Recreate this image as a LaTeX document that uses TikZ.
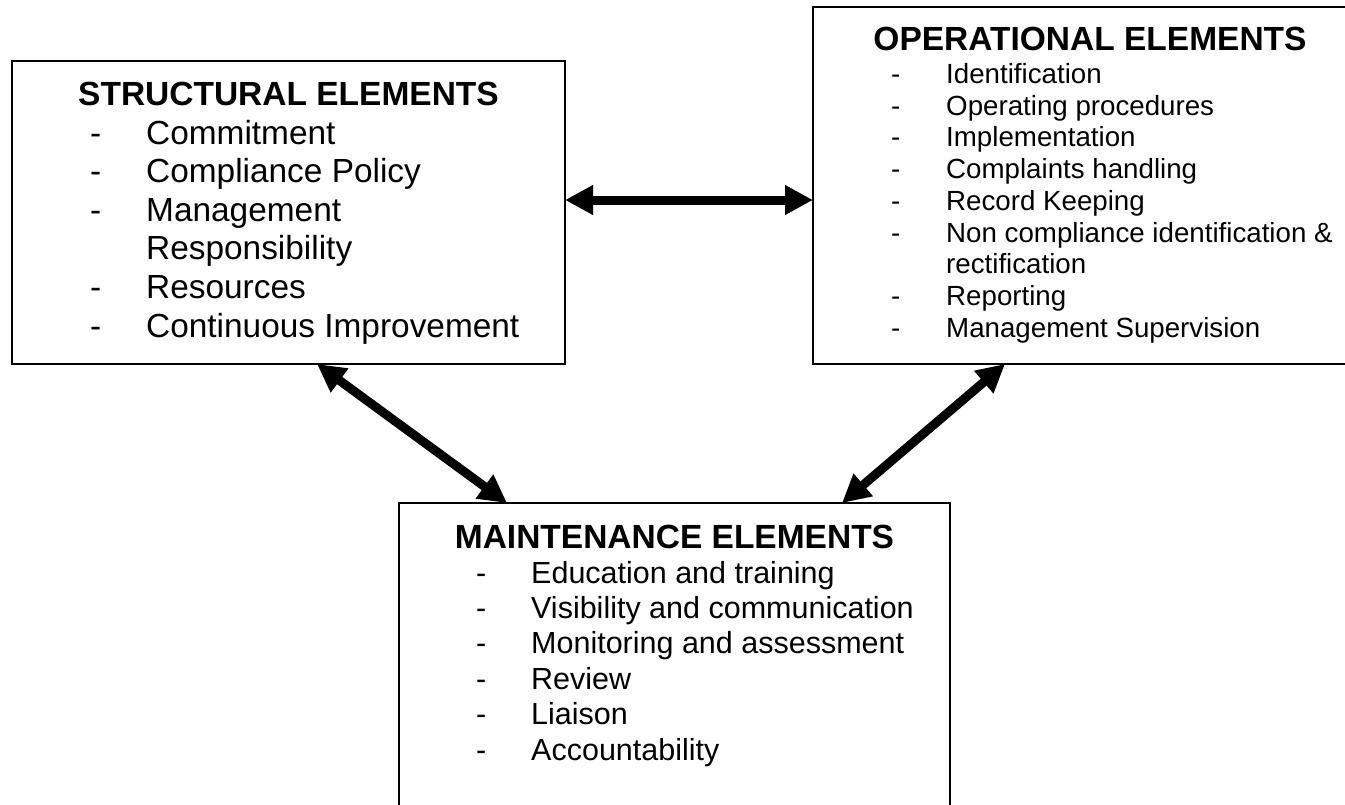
\documentclass[tikz,border=0pt]{standalone}
\usepackage{fontspec}
\setmainfont{Liberation Sans}
\usetikzlibrary{arrows.meta,calc}
\begin{document}
\begin{tikzpicture}[x=1pt,y=-1pt,
  panel/.style={draw=black, line width=2pt, inner sep=0pt, outer sep=0pt, anchor=north west, fill=none},
  heading/.style={font=\bfseries\fontsize{33.5}{38}\selectfont, inner sep=0pt, anchor=base},
  sitem/.style={font=\fontsize{33.4}{38.6}\selectfont, inner sep=0pt, anchor=base west},
  oitem/.style={font=\fontsize{27.7}{31.8}\selectfont, inner sep=0pt, anchor=base west},
  mitem/.style={font=\fontsize{30.5}{35.4}\selectfont, inner sep=0pt, anchor=base west},
  dblarrow/.style={line width=9pt, {Triangle[length=28pt,width=28pt]}-{Triangle[length=28pt,width=28pt]}}
]
\useasboundingbox (0,0) rectangle (1345,804);

% boxes
\node[panel, minimum width=553pt, minimum height=303pt] (s) at (12,61) {};
\node[panel, minimum width=554pt, minimum height=357pt] (o) at (813,7) {};
\node[panel, minimum width=551pt, minimum height=330pt] (m) at (399,503) {};

% structural
\node[heading] (st) at (288.5,105) {STRUCTURAL ELEMENTS};
\node[sitem] (sd1) at (90,144) {-};   \node[sitem] (s1) at (146,144) {Commitment};
\node[sitem] (sd2) at (90,182.6) {-}; \node[sitem] (s2) at (146,182.6) {Compliance Policy};
\node[sitem] (sd3) at (90,221.2) {-}; \node[sitem] (s3) at (146,221.2) {Management};
\node[sitem] (s4) at (146,259.8) {Responsibility};
\node[sitem] (sd5) at (90,298.4) {-}; \node[sitem] (s5) at (146,298.4) {Resources};
\node[sitem] (sd6) at (90,337) {-};   \node[sitem] (s6) at (146,337) {Continuous Improvement};

% operational
\node[heading] (ot) at (1090,50) {OPERATIONAL ELEMENTS};
\node[oitem] (od1) at (891,83.3) {-};   \node[oitem] (o1) at (946,83.3) {Identification};
\node[oitem] (od2) at (891,115.05) {-}; \node[oitem] (o2) at (946,115.05) {Operating procedures};
\node[oitem] (od3) at (891,146.8) {-};  \node[oitem] (o3) at (946,146.8) {Implementation};
\node[oitem] (od4) at (891,178.55) {-}; \node[oitem] (o4) at (946,178.55) {Complaints handling};
\node[oitem] (od5) at (891,210.3) {-};  \node[oitem] (o5) at (946,210.3) {Record Keeping};
\node[oitem] (od6) at (891,242.05) {-}; \node[oitem] (o6) at (946,242.05) {Non compliance identification \&};
\node[oitem] (o7) at (946,273.8) {rectification};
\node[oitem] (od8) at (891,305.55) {-}; \node[oitem] (o8) at (946,305.55) {Reporting};
\node[oitem] (od9) at (891,337.3) {-};  \node[oitem] (o9) at (946,337.3) {Management Supervision};

% maintenance
\node[heading] (mt) at (674.5,548) {MAINTENANCE ELEMENTS};
\node[mitem] (md1) at (476,583) {-};   \node[mitem] (m1) at (531,583) {Education and training};
\node[mitem] (md2) at (476,618.4) {-}; \node[mitem] (m2) at (531,618.4) {Visibility and communication};
\node[mitem] (md3) at (476,653.8) {-}; \node[mitem] (m3) at (531,653.8) {Monitoring and assessment};
\node[mitem] (md4) at (476,689.2) {-}; \node[mitem] (m4) at (531,689.2) {Review};
\node[mitem] (md5) at (476,724.6) {-}; \node[mitem] (m5) at (531,724.6) {Liaison};
\node[mitem] (md6) at (476,760) {-};   \node[mitem] (m6) at (531,760) {Accountability};

% connector end points on the box borders
\coordinate (hs) at ([yshift=-139pt]s.north east);
\coordinate (ho) at ([yshift=-193pt]o.north west);
\coordinate (ls) at ([xshift=305pt]s.south west);
\coordinate (lm) at ([xshift=108pt]m.north west);
\coordinate (rs) at ([xshift=192pt]o.south west);
\coordinate (rm) at ([xshift=443pt]m.north west);

\draw[dblarrow] (hs) -- (ho);
\draw[dblarrow] (ls) -- (lm);
\draw[dblarrow] (rs) -- (rm);
\end{tikzpicture}
\end{document}
